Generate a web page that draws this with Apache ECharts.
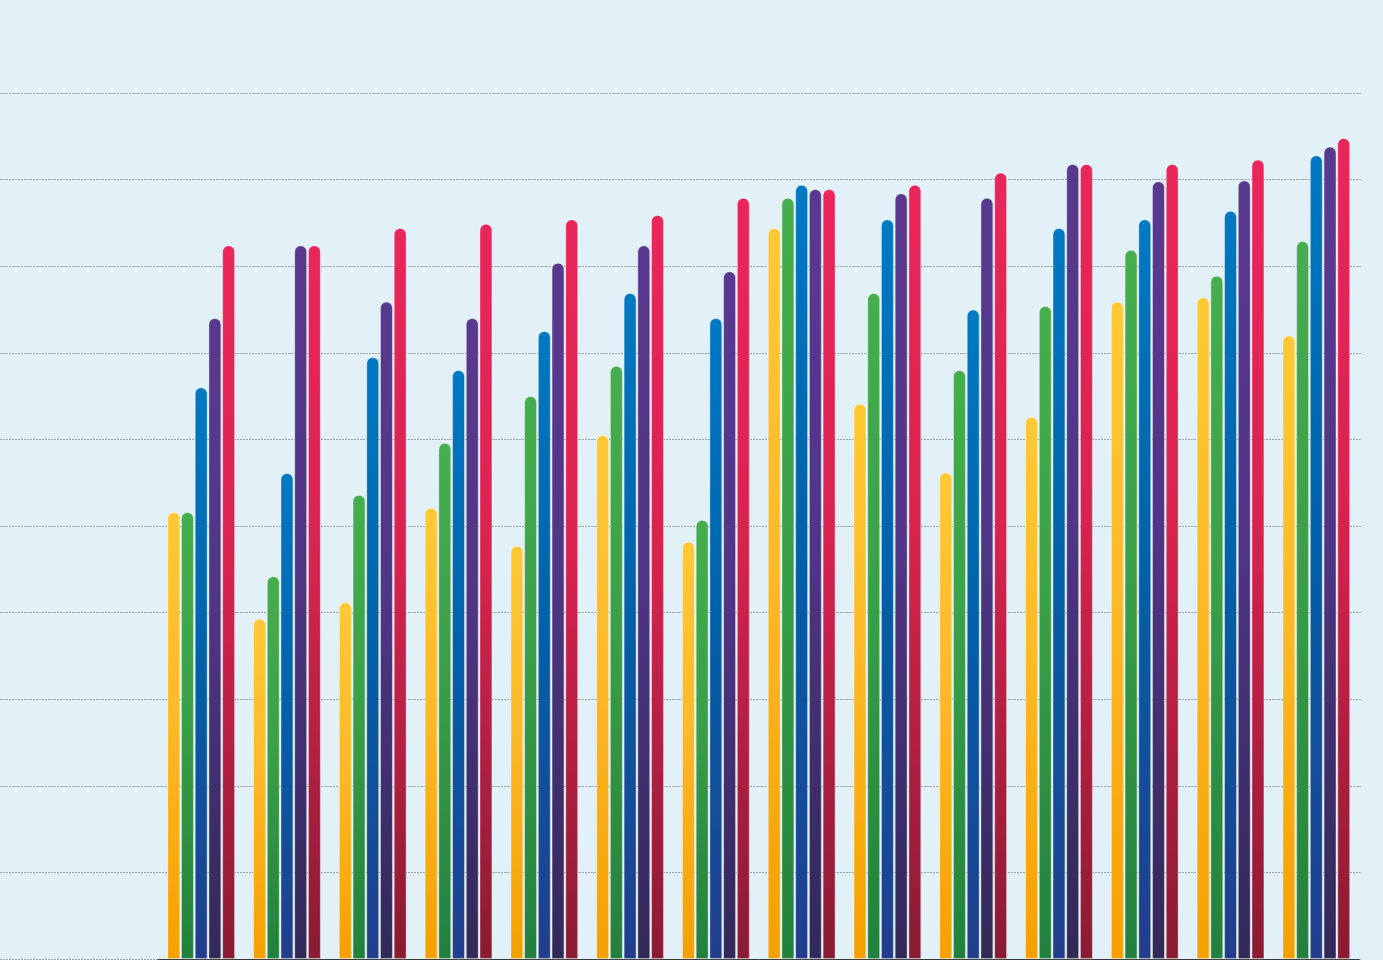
<!DOCTYPE html>
<html>
<head>
<meta charset="utf-8">
<script src="https://cdn.jsdelivr.net/npm/echarts@6/dist/echarts.min.js"></script>
<style>
  html, body { margin: 0; padding: 0; background: #E2F1F7; }
  #chart { width: 1383px; height: 960px; }
</style>
</head>
<body>
<div id="chart"></div>
<script>
// Category slots along the x axis (labels are not drawn)
const categories = ['1', '2', '3', '4', '5', '6', '7', '8', '9', '10', '11', '12', '13', '14'];

// Five series, one bar per category each
const yellowValues = [51.6, 39.3, 41.2, 52.1, 47.7, 60.5, 48.2, 84.4, 64.1, 56.2, 62.6, 75.9, 76.4, 72.0];
const greenValues  = [51.6, 44.2, 53.6, 59.6, 65.0, 68.5, 50.7, 87.9, 76.9, 68.0, 75.4, 81.9, 78.9, 82.9];
const blueValues   = [66.0, 56.1, 69.5, 68.0, 72.5, 76.9, 74.0, 89.4, 85.4, 75.0, 84.4, 85.4, 86.4, 92.8];
const purpleValues = [74.0, 82.4, 75.9, 74.0, 80.4, 82.4, 79.4, 88.9, 88.4, 87.9, 91.8, 89.8, 89.9, 93.8];
const redValues    = [82.4, 82.4, 84.4, 84.9, 85.4, 85.9, 87.9, 88.9, 89.4, 90.8, 91.8, 91.8, 92.3, 94.8];

// Value axis range and gridline spacing
const axisMin = 0;
const axisMax = 100;
const axisStep = 10;

// Vertical gradients (top, middle, bottom) for each series
const palettes = [
  ['#FFC935', '#FDB928', '#F5A000'],
  ['#46AE4E', '#3B9F47', '#22803D'],
  ['#0079C3', '#0062AA', '#223D8C'],
  ['#59398F', '#503586', '#312957'],
  ['#EA265B', '#D8234F', '#891B33']
];

const seriesData = [yellowValues, greenValues, blueValues, purpleValues, redValues];

function gradient(c) {
  return new echarts.graphic.LinearGradient(0, 0, 0, 1, [
    { offset: 0, color: c[0] },
    { offset: 0.45, color: c[1] },
    { offset: 1, color: c[2] }
  ]);
}

const chart = echarts.init(document.getElementById('chart'), null, { renderer: 'canvas' });

const option = {
  backgroundColor: '#E2F1F7',
  animation: false,
  grid: [
    // bars
    { left: 158.3, right: 23.8, top: 93, bottom: 1 },
    // full-width dotted gridlines behind the bars
    { left: 0, right: 21, top: 93, bottom: 1 }
  ],
  xAxis: [
    {
      type: 'category',
      gridIndex: 0,
      data: categories,
      axisLine: { show: true, lineStyle: { color: '#3a3a3a', width: 1 } },
      axisTick: { show: false },
      axisLabel: { show: false },
      splitLine: { show: false }
    },
    {
      type: 'value',
      gridIndex: 1,
      min: 0,
      max: 1,
      show: false
    }
  ],
  yAxis: [
    {
      type: 'value',
      gridIndex: 0,
      min: axisMin,
      max: axisMax,
      interval: axisStep,
      axisLine: { show: false },
      axisTick: { show: false },
      axisLabel: { show: false },
      splitLine: { show: false }
    },
    {
      type: 'value',
      gridIndex: 1,
      min: axisMin,
      max: axisMax,
      interval: axisStep,
      axisLine: { show: false },
      axisTick: { show: false },
      axisLabel: { show: false },
      splitLine: {
        show: true,
        lineStyle: { color: '#9AA6AC', width: 1, type: [2, 1] }
      }
    }
  ],
  series: seriesData.map((vals, i) => ({
    type: 'bar',
    xAxisIndex: 0,
    yAxisIndex: 0,
    data: vals,
    barWidth: 12.7,
    barGap: '8%',
    itemStyle: {
      color: gradient(palettes[i]),
      borderRadius: [7, 7, 0, 0],
      borderColor: 'rgba(255,255,255,0.45)',
      borderWidth: 0.8
    }
  }))
};

chart.setOption(option);
</script>
</body>
</html>
